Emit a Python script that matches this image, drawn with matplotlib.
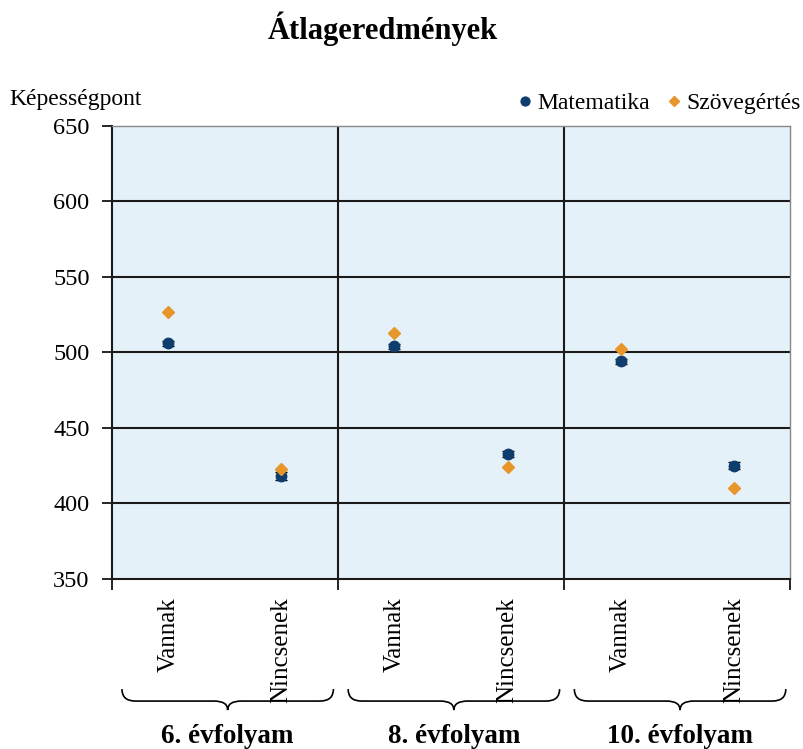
import matplotlib.pyplot as plt
from matplotlib.path import Path
from matplotlib.patches import PathPatch
from matplotlib.transforms import blended_transform_factory

plt.rcParams['font.family'] = ['Liberation Serif', 'DejaVu Serif']

# Data
categories = ['Vannak', 'Nincsenek', 'Vannak', 'Nincsenek', 'Vannak', 'Nincsenek']
groups = ['6. évfolyam', '8. évfolyam', '10. évfolyam']
matek = [506, 418, 504, 433, 494, 425]
matek_err = [1.5, 2.5, 1.5, 2.0, 1.5, 2.5]
szoveg = [527, 423, 513, 424, 502, 410]

x = list(range(len(categories)))

fig = plt.figure(figsize=(8.04, 7.49), dpi=100)
ax = fig.add_axes([0.139, 0.227, 0.844, 0.605])
ax.set_facecolor('#E5F1F8')

# horizontal grid + group dividers
for yv in [400, 450, 500, 550, 600]:
    ax.axhline(yv, color='#1a1a1a', lw=1.5, zorder=1)
for xv in [1.5, 3.5]:
    ax.axvline(xv, color='#1a1a1a', lw=1.5, zorder=1)

ax.errorbar(x, matek, yerr=matek_err, fmt='none', ecolor='black',
            elinewidth=1, capsize=4, zorder=2)
ax.plot(x, matek, 'o', color='#0F3D6E', markersize=7.5, zorder=3,
        label='Matematika')
ax.plot(x, szoveg, 'D', color='#E8962A', markersize=6, zorder=4,
        label='Szövegértés')

ax.set_xlim(-0.5, 5.5)
ax.set_ylim(350, 650)
ax.set_yticks([350, 400, 450, 500, 550, 600, 650])
ax.tick_params(axis='y', labelsize=17.5, length=7, width=1.2, direction='out', pad=9)

ax.set_xticks(x)
ax.set_xticklabels(categories, rotation=90, fontsize=18)
ax.tick_params(axis='x', length=0, pad=13)
ax.set_xticks([-0.5, 1.5, 3.5, 5.5], minor=True)
ax.tick_params(axis='x', which='minor', length=8, width=1.2)

for s in ['left', 'bottom']:
    ax.spines[s].set_color('#1a1a1a')
    ax.spines[s].set_linewidth(1.5)
for s in ['top', 'right']:
    ax.spines[s].set_color('#888888')
    ax.spines[s].set_linewidth(1)

# braces under each group
trans = blended_transform_factory(ax.transData, fig.transFigure)
y_top, y_mid, y_bot = 0.080, 0.064, 0.052
for i, g in enumerate(groups):
    xa = 2 * i - 0.41
    xb = 2 * i + 1.46
    xc = (xa + xb) / 2
    w = 0.12
    verts = [(xa, y_top), (xa, y_mid), (xa + w, y_mid),
             (xc - w, y_mid),
             (xc, y_mid), (xc, y_bot),
             (xc, y_mid), (xc + w, y_mid),
             (xb - w, y_mid),
             (xb, y_mid), (xb, y_top)]
    codes = [Path.MOVETO, Path.CURVE3, Path.CURVE3,
             Path.LINETO,
             Path.CURVE3, Path.CURVE3,
             Path.CURVE3, Path.CURVE3,
             Path.LINETO,
             Path.CURVE3, Path.CURVE3]
    ax.add_patch(PathPatch(Path(verts, codes), transform=trans, fill=False,
                           edgecolor='black', lw=1.2, clip_on=False))
    fig.text(xc, 0.017, g, transform=trans, ha='center', va='center',
             fontsize=19.5, fontweight='bold')

fig.text(0.476, 0.962, 'Átlageredmények', ha='center', va='center',
         fontsize=22, fontweight='bold')
fig.text(0.012, 0.867, 'Képességpont', ha='left', va='center', fontsize=17)

ax.legend(loc='lower right', bbox_to_anchor=(1.03, 1.005), ncol=2, frameon=False,
          fontsize=17, handletextpad=0.05, columnspacing=0.5, handlelength=1.0,
          markerscale=0.85, borderaxespad=0)

fig.savefig('out.png', dpi=100)
